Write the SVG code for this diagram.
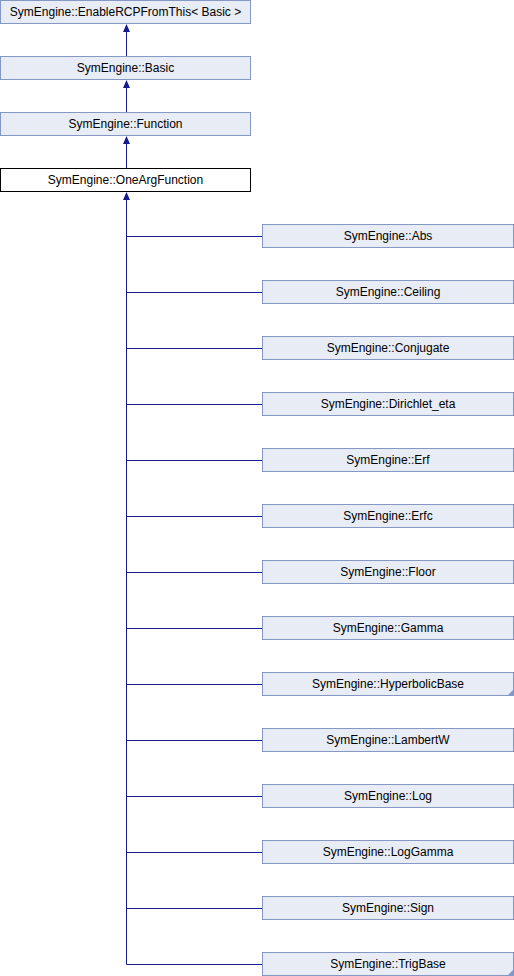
<svg xmlns="http://www.w3.org/2000/svg" width="514" height="976" viewBox="0 0 514 976">
<defs>
<style>
.box{fill:#E8ECF5;stroke:#8497C5;stroke-width:1}
.cur{fill:#FFFFFF;stroke:#000000;stroke-width:1}
.t{font-family:"Liberation Sans",Arial,sans-serif;font-size:12px;fill:#000;text-anchor:middle}
.ln{fill:none;stroke:#1A1A8F;stroke-width:1}
.ah{fill:#1A1A8F}
.fold{fill:#8497C5}
</style>
<marker id="arr" viewBox="0 0 8 10" refX="4" refY="0" markerWidth="8" markerHeight="10" markerUnits="userSpaceOnUse" orient="auto-start-reverse">
<path d="M0,0 L8,0 L4,10 Z" class="ah"/>
</marker>
</defs>
<rect width="514" height="976" fill="#FFFFFF"/>
<g id="connectors">
<path class="ln" d="M126.5,56 V31"/><path class="ah" d="M126.5,24 L130,32 L123,32 Z"/>
<path class="ln" d="M126.5,112 V87"/><path class="ah" d="M126.5,80 L130,88 L123,88 Z"/>
<path class="ln" d="M126.5,168 V143"/><path class="ah" d="M126.5,136 L130,144 L123,144 Z"/>
<path class="ah" d="M126.5,192 L130,200 L123,200 Z"/>
<path class="ln" d="M126.5,199 V964.5 H262"/>
<path class="ln" d="M126.5,236.5 H262 M126.5,292.5 H262 M126.5,348.5 H262 M126.5,404.5 H262 M126.5,460.5 H262 M126.5,516.5 H262 M126.5,572.5 H262 M126.5,628.5 H262 M126.5,684.5 H262 M126.5,740.5 H262 M126.5,796.5 H262 M126.5,852.5 H262 M126.5,908.5 H262"/>
</g>
<g id="n_enablercp"><rect class="box" x="0.5" y="0.5" width="250" height="23"/><text class="t" x="125.5" y="16">SymEngine::EnableRCPFromThis&lt; Basic &gt;</text></g>
<g id="n_basic"><rect class="box" x="0.5" y="56.5" width="250" height="23"/><text class="t" x="125.5" y="72">SymEngine::Basic</text></g>
<g id="n_function"><rect class="box" x="0.5" y="112.5" width="250" height="23"/><text class="t" x="125.5" y="128">SymEngine::Function</text></g>
<g id="n_oneargfunction"><rect class="cur" x="0.5" y="168.5" width="250" height="23"/><text class="t" x="125.5" y="184">SymEngine::OneArgFunction</text></g>
<g id="n_abs"><rect class="box" x="262.5" y="224.5" width="251" height="23"/><text class="t" x="388" y="240">SymEngine::Abs</text></g>
<g id="n_ceiling"><rect class="box" x="262.5" y="280.5" width="251" height="23"/><text class="t" x="388" y="296">SymEngine::Ceiling</text></g>
<g id="n_conjugate"><rect class="box" x="262.5" y="336.5" width="251" height="23"/><text class="t" x="388" y="352">SymEngine::Conjugate</text></g>
<g id="n_dirichlet_eta"><rect class="box" x="262.5" y="392.5" width="251" height="23"/><text class="t" x="388" y="408">SymEngine::Dirichlet_eta</text></g>
<g id="n_erf"><rect class="box" x="262.5" y="448.5" width="251" height="23"/><text class="t" x="388" y="464">SymEngine::Erf</text></g>
<g id="n_erfc"><rect class="box" x="262.5" y="504.5" width="251" height="23"/><text class="t" x="388" y="520">SymEngine::Erfc</text></g>
<g id="n_floor"><rect class="box" x="262.5" y="560.5" width="251" height="23"/><text class="t" x="388" y="576">SymEngine::Floor</text></g>
<g id="n_gamma"><rect class="box" x="262.5" y="616.5" width="251" height="23"/><text class="t" x="388" y="632">SymEngine::Gamma</text></g>
<g id="n_hyperbolicbase"><rect class="box" x="262.5" y="672.5" width="251" height="23"/><path class="fold" d="M514,689 L514,696 L507,696 Z"/><text class="t" x="388" y="688">SymEngine::HyperbolicBase</text></g>
<g id="n_lambertw"><rect class="box" x="262.5" y="728.5" width="251" height="23"/><text class="t" x="388" y="744">SymEngine::LambertW</text></g>
<g id="n_log"><rect class="box" x="262.5" y="784.5" width="251" height="23"/><text class="t" x="388" y="800">SymEngine::Log</text></g>
<g id="n_loggamma"><rect class="box" x="262.5" y="840.5" width="251" height="23"/><text class="t" x="388" y="856">SymEngine::LogGamma</text></g>
<g id="n_sign"><rect class="box" x="262.5" y="896.5" width="251" height="23"/><text class="t" x="388" y="912">SymEngine::Sign</text></g>
<g id="n_trigbase"><rect class="box" x="262.5" y="952.5" width="251" height="23"/><path class="fold" d="M514,969 L514,976 L507,976 Z"/><text class="t" x="388" y="968">SymEngine::TrigBase</text></g>
</svg>
